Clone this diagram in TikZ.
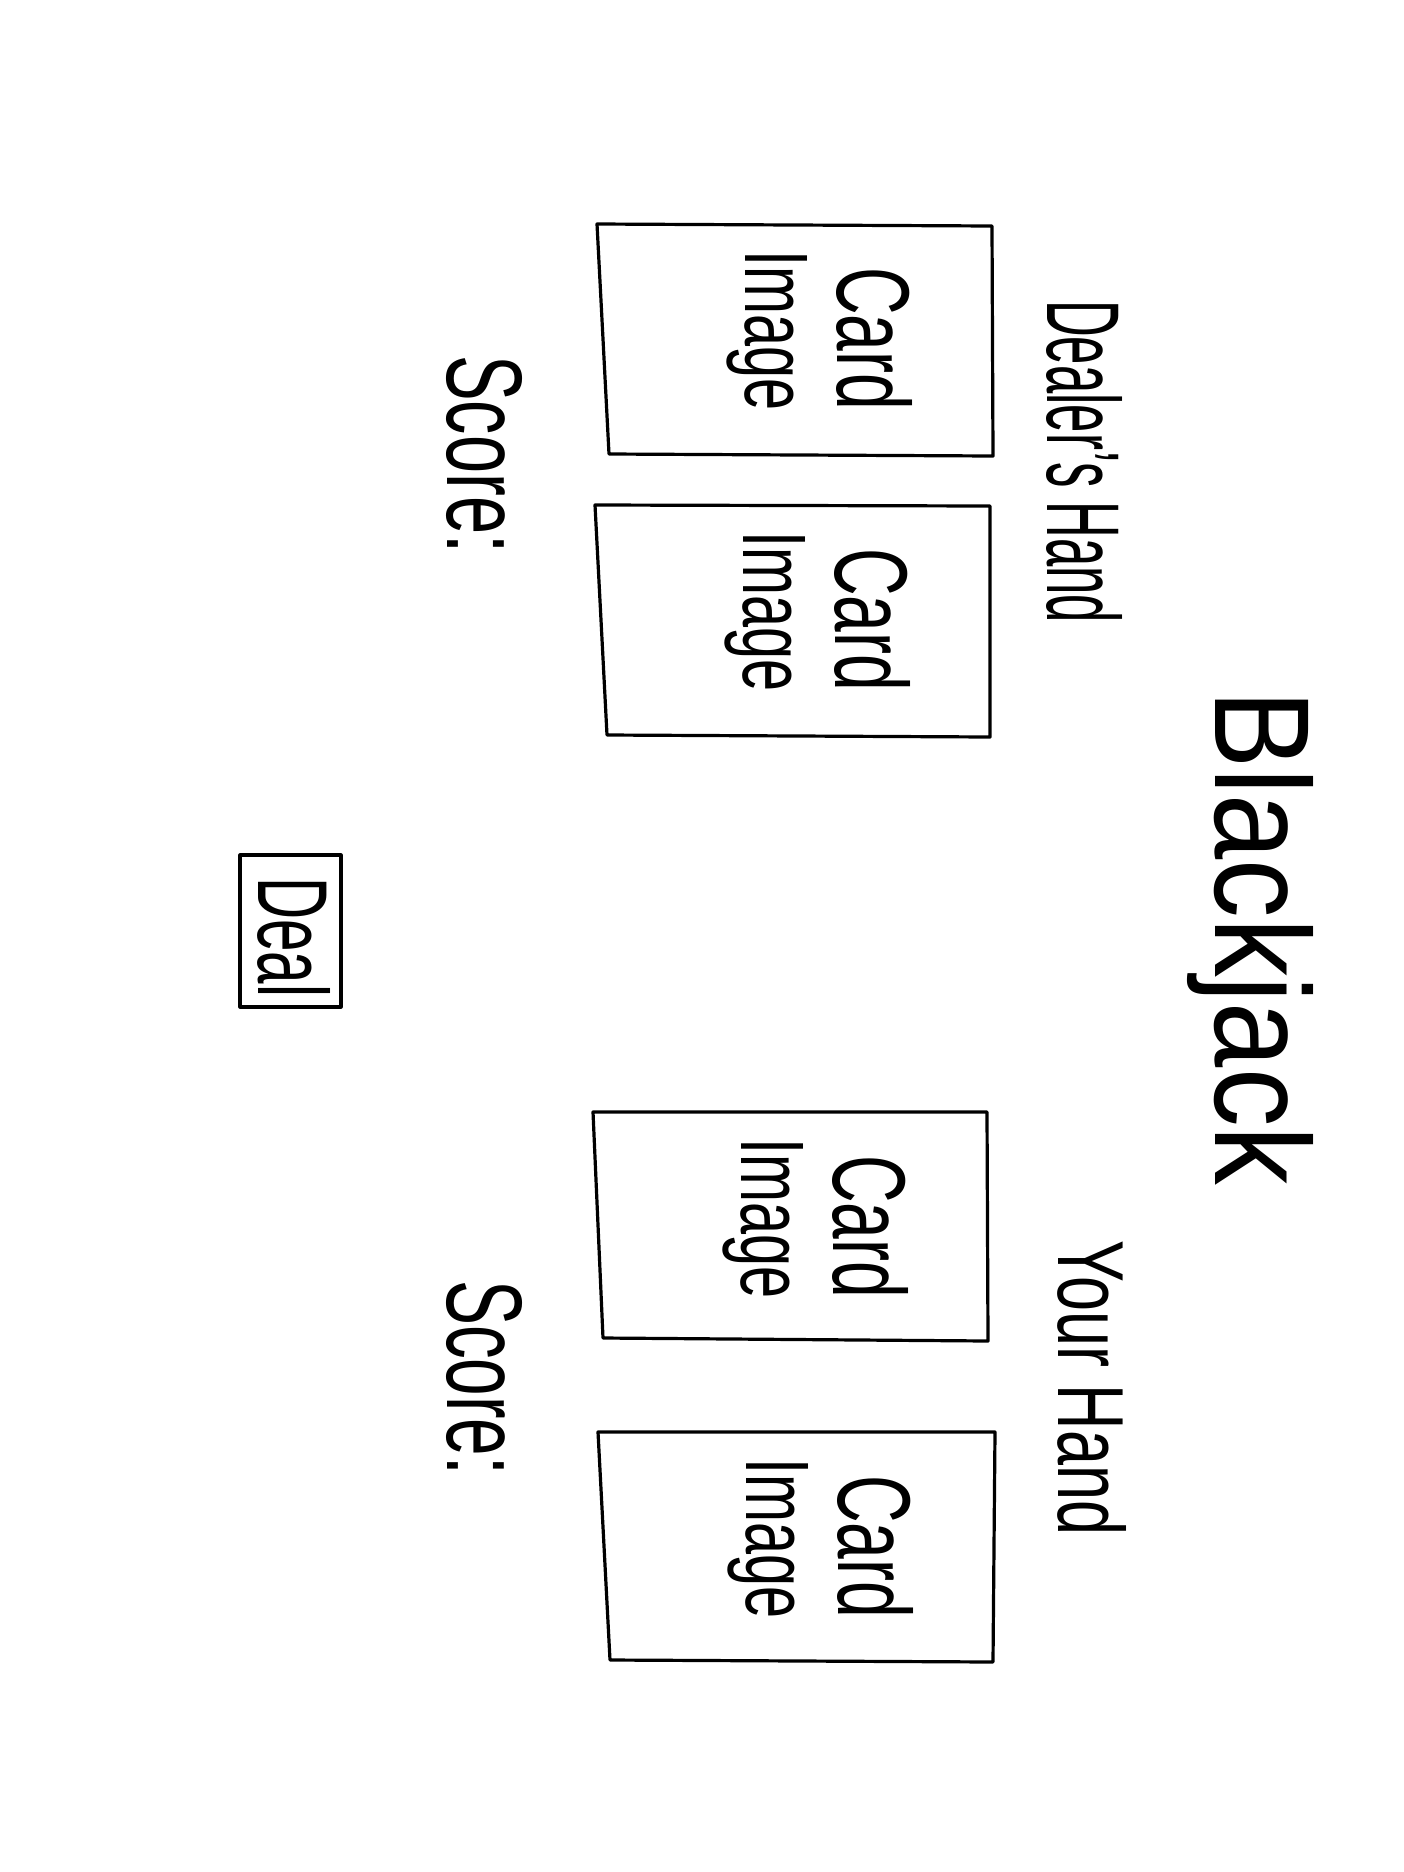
\documentclass[tikz,border=0pt]{standalone}
\usepackage{fontspec}
\setmainfont{Liberation Sans}
\begin{document}
\begin{tikzpicture}[x=1pt,y=-1pt,
  edge/.style={line width=3.2pt, line cap=round, line join=round},
  scrawl/.style={inner sep=0pt, rotate=-90, anchor=base west}]
\useasboundingbox[fill=white] (0,0) rectangle (1404,1872);

% a card outline with its two-line caption; #1 name, then TL, TR, BR, BL corners
\newcommand\cardsketch[9]{%
  \draw[edge] (#2,#3) coordinate (#1-tl) -- (#4,#5) coordinate (#1-tr)
    -- (#6,#7) coordinate (#1-br) -- (#8,#9) coordinate (#1-bl) -- cycle;
  \node[scrawl] (#1-card) at ([shift={(240,43)}]#1-tl) {\resizebox{143pt}{75pt}{Card}};
  \node[scrawl] (#1-image) at ([shift={(148,26)}]#1-tl) {\resizebox{160pt}{62pt}{Image}};
}

% title
\node[scrawl] (title) at (1215,690) {\resizebox{495pt}{98pt}{Blackjack}};

% dealer side
\node[scrawl] (dealerhand) at (1047,300) {\resizebox{323pt}{75pt}{Dealer's Hand}};
\cardsketch{dcardA}{597}{224}{992}{226}{993}{456}{609}{454}
\cardsketch{dcardB}{595}{505}{990}{506}{990}{737}{607}{735}
\node[scrawl] (dealerscore) at (447,355) {\resizebox{198pt}{75pt}{Score:}};

% player side
\node[scrawl] (yourhand) at (1058,1240) {\resizebox{295pt}{68pt}{Your Hand}};
\cardsketch{pcardA}{593}{1112}{987}{1112}{988}{1341}{603}{1338}
\cardsketch{pcardB}{598}{1432}{995}{1432}{993}{1662}{610}{1660}
\node[scrawl] (yourscore) at (447,1280) {\resizebox{195pt}{75pt}{Score:}};

% deal button
\draw[edge] (240,855) coordinate (deal-tl) rectangle (341,1007) coordinate (deal-br);
\node[scrawl] (deal) at (258,877) {\resizebox{120pt}{72pt}{Deal}};
\end{tikzpicture}
\end{document}
